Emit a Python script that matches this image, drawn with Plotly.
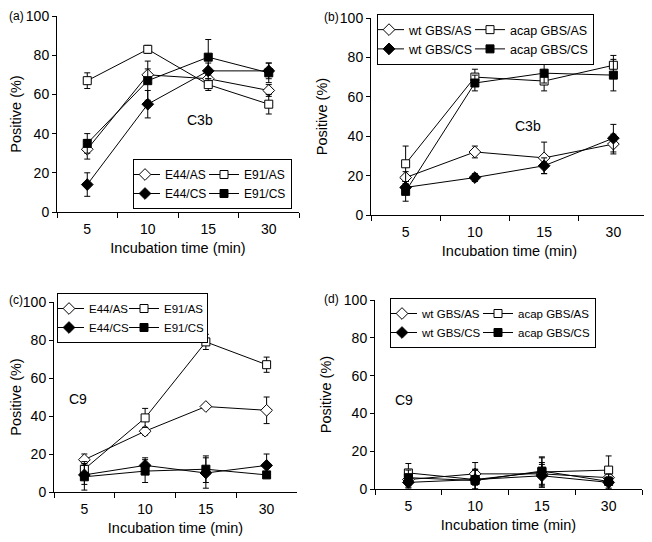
import plotly.graph_objects as go

times = ["5", "10", "15", "30"]

# Panel (a) C3b
a_names = ["E44/AS", "E91/AS", "E44/CS", "E91/CS"]
a_E44_AS = [32, 70, 68, 62]
a_E44_AS_err = [5, 3, 4, 3]
a_E91_AS = [67, 83, 65, 55]
a_E91_AS_err = [4, 2, 3, 5]
a_E44_CS = [14, 55, 72, 72]
a_E44_CS_err = [6, 7, 4, 4]
a_E91_CS = [35, 67, 79, 71]
a_E91_CS_err = [5, 10, 9, 5]

# Panel (b) C3b
b_names = ["wt GBS/AS", "acap GBS/AS", "wt GBS/CS", "acap GBS/CS"]
b_wt_AS = [19, 32, 29, 36]
b_wt_AS_err = [3, 3, 8, 5]
b_acap_AS = [26, 70, 68, 76]
b_acap_AS_err = [9, 4, 5, 5]
b_wt_CS = [14, 19, 25, 39]
b_wt_CS_err = [3, 2, 4, 7]
b_acap_CS = [12, 67, 72, 71]
b_acap_CS_err = [5, 4, 5, 8]

# Panel (c) C9
c_E44_AS = [17, 32, 45, 43]
c_E44_AS_err = [3, 2, 1, 7]
c_E91_AS = [12, 39, 79, 67]
c_E91_AS_err = [4, 5, 4, 4]
c_E44_CS = [9, 14, 10, 14]
c_E44_CS_err = [5, 4, 8, 6]
c_E91_CS = [8, 11, 12, 9]
c_E91_CS_err = [7, 6, 7, 1]

# Panel (d) C9
d_wt_AS = [5, 8, 8, 6]
d_wt_AS_err = [4, 6, 6, 4]
d_acap_AS = [8.5, 5, 9, 10]
d_acap_AS_err = [5, 5, 8, 7.5]
d_wt_CS = [3.5, 5, 7, 3.5]
d_wt_CS_err = [3, 5, 6, 3]
d_acap_CS = [6, 4.5, 9.5, 4]
d_acap_CS_err = [4, 6, 7, 4]

FONT = "Liberation Sans, Arial, sans-serif"

fig = go.Figure()

# marker styles: open diamond, open square, filled diamond, filled square
styles = [
    dict(symbol="diamond", color="white", size=9),
    dict(symbol="square", color="white", size=8),
    dict(symbol="diamond", color="black", size=9),
    dict(symbol="square", color="black", size=8),
]

def add_panel(idx, names, series, errs, legend, colw):
    xa = "x" if idx == 1 else f"x{idx}"
    ya = "y" if idx == 1 else f"y{idx}"
    groups = [0, 1, 0, 1]
    for k in range(4):
        st = styles[k]
        fig.add_trace(go.Scatter(
            x=times, y=series[k], name=names[k],
            mode="lines+markers",
            line=dict(color="black", width=1),
            marker=dict(symbol=st["symbol"], color=st["color"], size=st["size"],
                        line=dict(color="black", width=1)),
            error_y=dict(type="data", array=errs[k], visible=True,
                         color="black", thickness=1, width=3),
            xaxis=xa, yaxis=ya, legend=legend,
            legendgroup=f"{legend}g{groups[k]}",
            legendwidth=colw[groups[k]],
        ))

add_panel(1, a_names, [a_E44_AS, a_E91_AS, a_E44_CS, a_E91_CS],
          [a_E44_AS_err, a_E91_AS_err, a_E44_CS_err, a_E91_CS_err], "legend", (42, 42))
add_panel(2, b_names, [b_wt_AS, b_acap_AS, b_wt_CS, b_acap_CS],
          [b_wt_AS_err, b_acap_AS_err, b_wt_CS_err, b_acap_CS_err], "legend2", (64, 78))
add_panel(3, a_names, [c_E44_AS, c_E91_AS, c_E44_CS, c_E91_CS],
          [c_E44_AS_err, c_E91_AS_err, c_E44_CS_err, c_E91_CS_err], "legend3", (38, 38))
add_panel(4, b_names, [d_wt_AS, d_acap_AS, d_wt_CS, d_acap_CS],
          [d_wt_AS_err, d_acap_AS_err, d_wt_CS_err, d_acap_CS_err], "legend4", (59, 72))

# page has an 8px body margin; work in page pixels and convert
OFF = 8
W, H = 652 - OFF, 542 - OFF

def px(x):
    return (x - OFF) / W

def py(y):
    return 1 - (y - OFF) / H

# page-pixel geometry: (x_left, x_right, y_bottom(0), y_top(100))
geom = {
    1: (57, 299, 212, 16),
    2: (371, 648, 215, 18),
    3: (54, 297, 492, 302),
    4: (375, 642, 489, 300),
}

def xaxis_cfg(x0, x1, anchor):
    return dict(domain=[px(x0), px(x1)], anchor=anchor, type="category",
                range=[-0.5, 3.5], showline=True, linecolor="black", linewidth=1,
                ticks="outside", tickson="boundaries", ticklen=5, tickcolor="black",
                ticklabelstandoff=4,
                showgrid=False, zeroline=False, automargin=False,
                tickfont=dict(family=FONT, size=14, color="black"),
                title=dict(text="Incubation time (min)", standoff=7,
                           font=dict(family=FONT, size=14.5, color="black")))

def yaxis_cfg(y0, y1, anchor):
    return dict(domain=[py(y0), py(y1)], anchor=anchor,
                range=[0, 100], tickvals=[0, 20, 40, 60, 80, 100],
                showline=True, linecolor="black", linewidth=1,
                ticks="outside", ticklen=4, tickcolor="black",
                ticklabeloverflow="allow",
                showgrid=False, zeroline=False, automargin=False,
                tickfont=dict(family=FONT, size=14, color="black"),
                title=dict(text="Positive (%)", standoff=8,
                           font=dict(family=FONT, size=14.5, color="black")))

layout = dict(width=W, height=H, margin=dict(l=0, r=0, t=0, b=0, autoexpand=False),
              plot_bgcolor="white", paper_bgcolor="white",
              font=dict(family=FONT, color="black"))
for i, (x0, x1, y0, y1) in geom.items():
    xk = "xaxis" if i == 1 else f"xaxis{i}"
    yk = "yaxis" if i == 1 else f"yaxis{i}"
    layout[xk] = xaxis_cfg(x0, x1, "y" if i == 1 else f"y{i}")
    layout[yk] = yaxis_cfg(y0, y1, "x" if i == 1 else f"x{i}")

def legend_cfg(lx, ly, size):
    return dict(x=px(lx), y=py(ly), xanchor="left", yanchor="top",
                orientation="h", traceorder="grouped",
                bgcolor="white", bordercolor="black", borderwidth=1,
                itemwidth=30, tracegroupgap=0, indentation=-8,
                font=dict(family=FONT, size=size, color="black"))

layout["legend"] = legend_cfg(133, 159, 12)
layout["legend2"] = legend_cfg(377, 14, 12.5)
layout["legend3"] = legend_cfg(57, 293, 11.5)
layout["legend4"] = legend_cfg(390, 298, 11.5)

fig.update_layout(**layout)

# panel annotations
labels = [("(a)", 8, 16), ("(b)", 323, 17), ("(c)", 8, 300), ("(d)", 323, 299)]
for t, lx, ly in labels:
    fig.add_annotation(text=t, x=px(lx), y=py(ly), xref="paper", yref="paper",
                       xanchor="left", yanchor="middle", showarrow=False,
                       borderpad=0,
                       font=dict(family=FONT, size=12, color="black"))

inner = [("C3b", "x", "y", 1.86, 47), ("C3b", "x2", "y2", 1.76, 45),
         ("C9", "x3", "y3", -0.1, 49), ("C9", "x4", "y4", -0.07, 47)]
for t, xr, yr, xv, yv in inner:
    fig.add_annotation(text=t, x=xv, y=yv, xref=xr, yref=yr, showarrow=False,
                       font=dict(family=FONT, size=14, color="black"))

fig.write_html("out.html")
